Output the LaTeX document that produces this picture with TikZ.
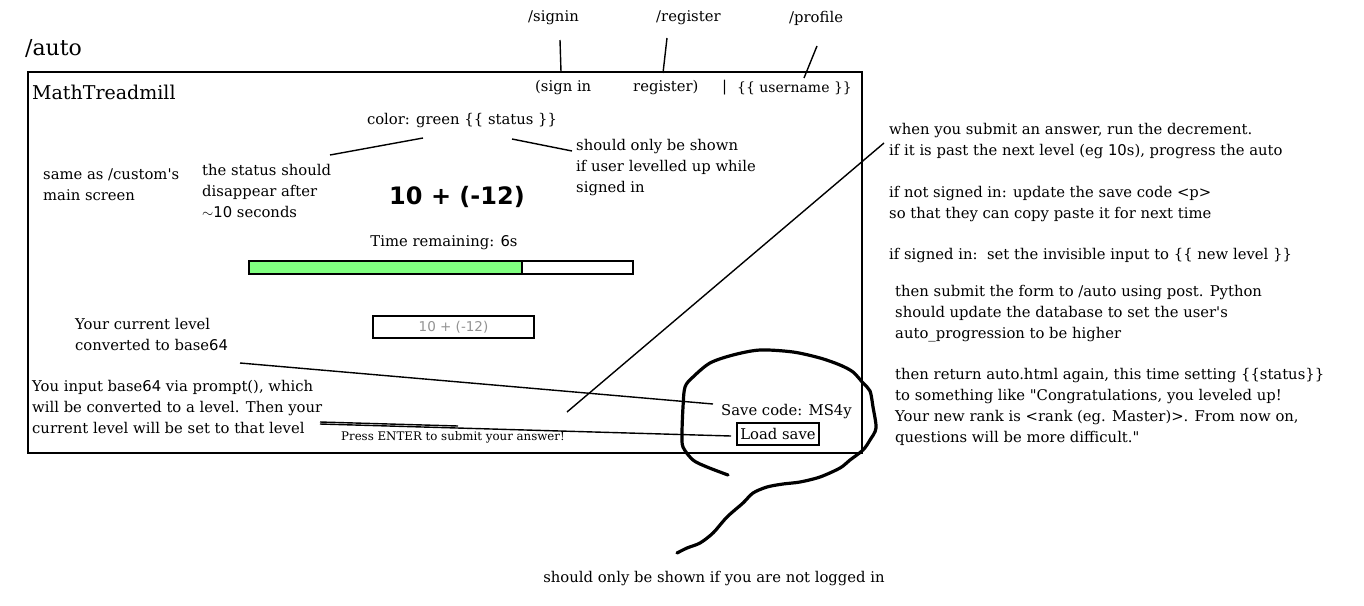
\documentclass[tikz,border=0pt]{standalone}
\usepackage{fontspec}
\setmainfont{DejaVu Serif}
\newfontfamily\sns{DejaVu Sans}
\newfontfamily\qf{DejaVu Serif}
\newcommand\dg[1]{{\sns #1}}
\newcommand\dq{{\qf"}}
\newcommand\sq{{\qf'}}
\definecolor{bargreen}{RGB}{128,255,128}
\begin{document}
\begin{tikzpicture}[x=1pt,y=-1pt,
  txt/.style={inner sep=0pt, anchor=north west, align=left, font=\fontsize{14.8}{21}\selectfont},
  one/.style={inner sep=0pt, font=\fontsize{14.8}{21}\selectfont},
  ln/.style={line width=1.4pt},
  frame/.style={draw, line width=2pt}]
\useasboundingbox[fill=white] (0,0) rectangle (1364,605);
% title and frame
\node[one, anchor=west, font=\fontsize{22}{26}\selectfont] (auto) at (25,49) {/auto};
\draw[frame] (28,72) rectangle (862,453);
\node[one, anchor=west, font=\fontsize{19}{22}\selectfont] (brand) at (32,92) {MathTreadmill};
% nav
\node[one, anchor=west] (signinui) at (535,88) {(sign in};
\node[one, anchor=west] (registerui) at (633,88) {register)};
\node[one, anchor=west] (userbar) at (722,88) {|};
\node[one, anchor=west, font=\fontsize{14}{21}\selectfont] (userui) at (737,88) {\{\{ username \}\}};
\node[one, anchor=west] (signin) at (528,18) {/signin};
\node[one, anchor=west] (register) at (656,18) {/register};
\node[one, anchor=west] (profile) at (789,18) {/profile};
\coordinate (c1a) at (560,40); \coordinate (c1b) at (561,72);
\coordinate (c2a) at (667,38); \coordinate (c2b) at (663,73);
\coordinate (c3a) at (817,46); \coordinate (c3b) at (804,78);
\draw[ln] (c1a) -- (c1b);
\draw[ln] (c2a) -- (c2b);
\draw[ln] (c3a) -- (c3b);
% status
\node[one] (status) at (462,121) {color: green \{\{ status \}\}};
\node[txt] (same) at (43,169) {same as /custom\sq s\\main screen};
\node[txt] (fade) at (202,164) {the status should\\disappear after\\$\sim$\dg{10} seconds};
\node[txt] (onlyup) at (576,139) {should only be shown\\if user levelled up while\\signed in};
\coordinate (s1a) at (330,155); \coordinate (s1b) at (423,138);
\coordinate (s2a) at (512,139); \coordinate (s2b) at (572,151);
\draw[ln] (s1a) -- (s1b);
\draw[ln] (s2a) -- (s2b);
% question
\node[inner sep=0pt, font=\fontsize{24}{28}\selectfont\sns\bfseries] (question) at (457,197) {10 + (-12)};
\node[one] (time) at (444,243) {Time remaining: \dg{6}s};
\fill[bargreen] (249,261) rectangle (522,274);
\draw[line width=1.6pt] (249,261) rectangle (633,274);
\draw[line width=1.6pt] (522,261) -- (522,274);
\node[draw, line width=1.6pt, minimum width=161pt, minimum height=22pt, inner sep=0pt,
  font=\fontsize{13.5}{15}\selectfont\sns, text=gray!85] (answer) at (453.5,327) {10 + (-12)};
% save
\node[txt] (level) at (75,318) {Your current level\\converted to base\dg{64}};
\node[txt] (input) at (32,380) {You input base\dg{64} via prompt(), which\\will be converted to a level. Then your\\current level will be set to that level};
\node[inner sep=0pt, font=\fontsize{11.8}{13}\selectfont] (enter) at (453,437) {Press ENTER to submit your answer!};
\node[one, anchor=west] (savecode) at (721,412) {Save code: MS4y};
\node[draw, line width=1.6pt, minimum width=82pt, minimum height=22pt, inner sep=0pt,
  font=\fontsize{14.8}{21}\selectfont] (loadsave) at (778,434) {Load save};
\coordinate (b1a) at (240,363); \coordinate (b1b) at (713,404);
\coordinate (b2a) at (320,422); \coordinate (b2m) at (458,426); \coordinate (b2b) at (731,436);
\coordinate (b3a) at (320,424);
\draw[ln] (b1a) -- (b1b);
\draw[ln] (b2a) -- (b2m);
\draw[ln] (b3a) -- (b2b);
\coordinate (d1) at (567,412); \coordinate (d2) at (884,143);
\draw[ln] (d1) -- (d2);
% freehand loop
\draw[line width=3.2pt, line join=round, line cap=round] plot[smooth] coordinates {
 (728,475) (707,467) (693,460) (683,447) (682,433) (683,407) (685,387) (693,377)
 (710,363) (733,355) (760,350) (793,352) (820,358) (840,365) (853,372) (863,383)
 (870,391) (873,407) (876,428) (870,440) (863,450) (850,460) (840,468) (820,477)
 (800,482) (783,484) (767,487) (753,493) (743,503) (727,517) (713,533) (700,543)
 (687,548) (677,553)};
\node[one] (notlogged) at (714,579) {should only be shown if you are not logged in};
% right notes
\node[txt] (n1) at (889,123) {when you submit an answer, run the decrement.\\if it is past the next level (eg \dg{10}s), progress the auto};
\node[txt] (n2) at (889,186) {if not signed in: update the save code <p>\\so that they can copy paste it for next time};
\node[txt] (n3) at (889,248) {if signed in:\ \ set the invisible input to \{\{ new level \}\}};
\node[txt] (n4) at (895,285) {then submit the form to /auto using post. Python\\should update the database to set the user\sq s\\auto\_progression to be higher};
\node[txt] (n5) at (895,368) {then return auto.html again, this time setting \{\{status\}\}\\to something like \dq Congratulations, you leveled up!\\Your new rank is <rank (eg. Master)>. From now on,\\questions will be more difficult.\dq};
\end{tikzpicture}
\end{document}
